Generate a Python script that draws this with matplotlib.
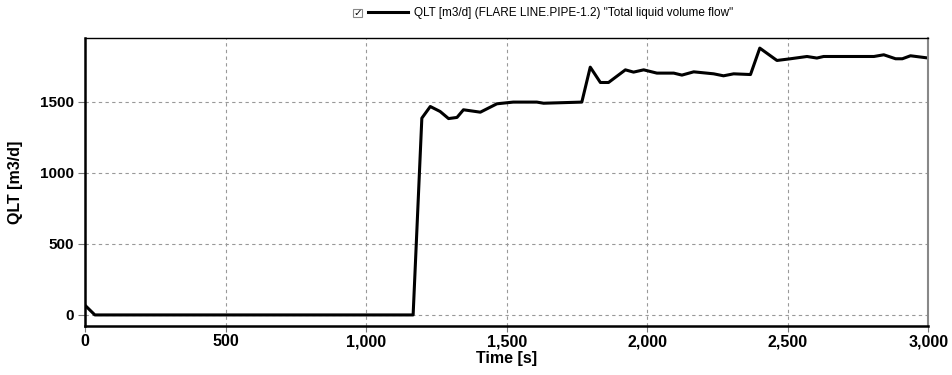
import matplotlib
matplotlib.use("Agg")
import matplotlib.pyplot as plt
from matplotlib.patches import Rectangle
from matplotlib.ticker import FuncFormatter

# time [s] and QLT [m3/d]
time_s = [0, 35, 1167, 1198, 1228, 1263, 1293, 1323, 1346, 1406, 1465, 1523,
          1607, 1631, 1767, 1797, 1833, 1862, 1922, 1951, 1987, 2034, 2094,
          2123, 2165, 2236, 2271, 2307, 2367, 2400, 2461, 2509, 2568, 2603,
          2627, 2806, 2841, 2883, 2907, 2936, 3000]
qlt = [68, 0, 0, 1385, 1467, 1432, 1382, 1390, 1444, 1427, 1486, 1498,
       1498, 1490, 1498, 1744, 1636, 1636, 1725, 1709, 1725, 1702, 1702,
       1688, 1711, 1697, 1683, 1697, 1692, 1878, 1791, 1803, 1819, 1808,
       1819, 1819, 1831, 1803, 1803, 1824, 1808]

x_ticks = [0, 500, 1000, 1500, 2000, 2500, 3000]
y_ticks = [0, 500, 1000, 1500]
legend_label = 'QLT [m3/d] (FLARE LINE.PIPE-1.2) "Total liquid volume flow"'

plt.rcParams["font.family"] = ["Liberation Sans", "DejaVu Sans"]

fig = plt.figure(figsize=(9.52, 3.75), dpi=100)
ax = fig.add_axes([0.0893, 0.131, 0.886, 0.768])

line, = ax.plot(time_s, qlt, color="black", lw=2.2, label=legend_label)

ax.set_xlim(0, 3000)
ax.set_ylim(-77, 1950)
ax.set_xticks(x_ticks)
ax.set_yticks(y_ticks)
ax.xaxis.set_major_formatter(FuncFormatter(lambda v, p: f"{int(v):,}"))
ax.grid(True, ls=(0, (3, 3)), color="#999999", lw=0.8)

for lab in ax.get_xticklabels():
    lab.set_fontweight("bold")
    lab.set_fontsize(11.5)
for lab in ax.get_yticklabels():
    lab.set_fontweight("bold")
    lab.set_fontsize(11)
ax.tick_params(axis="y", length=5, width=0.8, color="#777777", pad=3)
ax.tick_params(axis="x", length=4, width=0.8, color="#777777", pad=2)

ax.spines["left"].set_linewidth(1.8)
ax.spines["bottom"].set_linewidth(1.8)
ax.spines["top"].set_linewidth(1.0)
ax.spines["right"].set_color("#888888")
ax.spines["right"].set_linewidth(1.5)

ax.set_xlabel("Time [s]", fontsize=11.5, fontweight="bold", labelpad=1)
ax.set_ylabel("QLT [m3/d]", fontsize=11.5, fontweight="bold", labelpad=12)

fig.legend(handles=[line], loc="center", bbox_to_anchor=(0.578, 0.965),
           frameon=False, fontsize=8.5, handlelength=3.4, handletextpad=0.5)

# checkbox in front of the legend entry
fig.patches.append(Rectangle((0.3708, 0.954), 0.0095, 0.022, transform=fig.transFigure,
                             facecolor="white", edgecolor="#888888", lw=0.8))
fig.text(0.3756, 0.966, "✓", transform=fig.transFigure, ha="center", va="center",
         fontsize=7.5, fontweight="bold", family=["DejaVu Sans"])

fig.savefig("out.png", dpi=100)
